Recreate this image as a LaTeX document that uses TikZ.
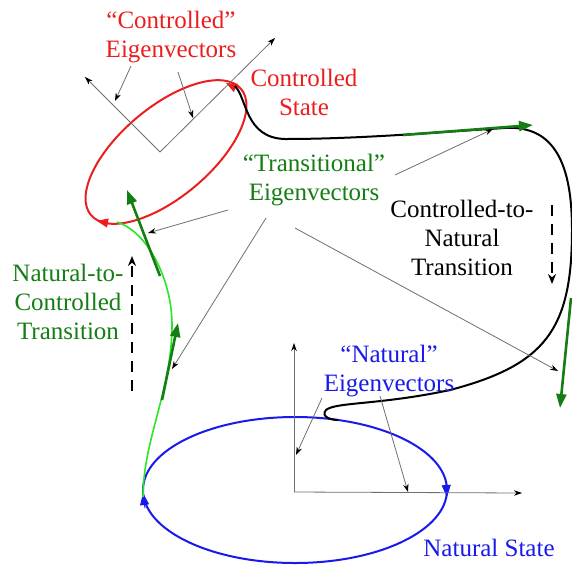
\documentclass[tikz,border=0pt]{standalone}
\usepackage{fontspec}
\setmainfont{Liberation Serif}
\usetikzlibrary{arrows.meta}
\definecolor{myred}{RGB}{235,30,30}
\definecolor{myblue}{RGB}{25,25,235}
\definecolor{dgreen}{RGB}{20,125,20}
\definecolor{lgreen}{RGB}{40,230,40}
\definecolor{axgray}{RGB}{110,110,110}
\begin{document}
\begin{tikzpicture}[x=1pt,y=-1pt,
  lbl/.style={font=\fontsize{25}{29}\selectfont, align=center, inner sep=0pt},
  garrow/.style={draw=axgray, line width=0.8pt, -{Stealth[length=8pt,width=5.5pt,black]}},
  tvec/.style={draw=dgreen, line width=2.6pt, -{Triangle[length=14pt,width=10pt]}},
  dasharrow/.style={draw=black, line width=2.2pt, dash pattern=on 11pt off 8pt, -{Stealth[length=10pt,width=8pt]}},
  traj/.style={line width=2pt}
]
\useasboundingbox (0,0) rectangle (572,568);

% ---------- coordinates ----------
\coordinate (rc) at (166,152);
\coordinate (ro) at (160,152);
\coordinate (rax1) at (85,77);
\coordinate (rax2) at (275,38);
\coordinate (bc) at (295,490);
\coordinate (bo) at (294,492);
\coordinate (bay) at (294,343);
\coordinate (bax) at (522,493);

% ---------- ellipses ----------
\draw[myred, traj, rotate around={40:(rc)}] (rc) ellipse [x radius=98pt, y radius=45pt];
\draw[myblue, traj] (bc) ellipse [x radius=152pt, y radius=73pt];
\draw[myred, line width=1pt, -{Triangle[length=11pt,width=9pt]}] (234,87) -- (226,83);
\draw[myred, line width=1pt, -{Triangle[length=11pt,width=9pt]}] (108,223) -- (97,221);
\draw[myblue, line width=1pt, -{Triangle[length=12pt,width=9pt]}] (446,482) -- (447,497);
\draw[myblue, line width=1pt, -{Triangle[length=12pt,width=9pt]}] (145,508) -- (143,493);

% ---------- eigen axes ----------
\draw[garrow] (ro) -- (rax1);
\draw[garrow] (ro) -- (rax2);
\draw[garrow] (bo) -- (bay);
\draw[garrow] (bo) -- (bax);

% ---------- trajectories ----------
\draw[black, traj] (235,86) .. controls (247,98) and (245,138) .. (285,139)
  .. controls (360,139) and (440,132) .. (505,128)
  .. controls (555,125) and (572,165) .. (572,230)
  .. controls (572,330) and (545,365) .. (450,390)
  .. controls (380,405) and (335,402) .. (326,410)
  .. controls (320,417) and (332,420) .. (338,420);
\draw[lgreen, line width=1.6pt] (117,222) .. controls (148,232) and (172,280) .. (172,325)
  .. controls (172,390) and (143,440) .. (143,497);

% ---------- transitional vectors ----------
\coordinate (t1s) at (160,276); \coordinate (t1e) at (127,190);
\coordinate (t2s) at (162,400); \coordinate (t2e) at (178,323);
\coordinate (t3s) at (403,135); \coordinate (t3e) at (533,125);
\coordinate (t4s) at (571,298); \coordinate (t4e) at (560,408);
\draw[tvec] (t1s) -- (t1e);
\draw[tvec] (t2s) -- (t2e);
\draw[tvec] (t3s) -- (t3e);
\draw[tvec] (t4s) -- (t4e);

% ---------- labels ----------
\node[lbl, text=myred] (ceig) at (171,37) {``Controlled''\\Eigenvectors};
\node[lbl, text=myred] (cstate) at (304,92) {Controlled\\State};
\node[lbl, text=dgreen] (teig) at (314,180) {``Transitional''\\Eigenvectors};
\node[lbl, text=black] (c2n) at (462,238) {Controlled-to-\\Natural\\Transition};
\node[lbl, text=dgreen] (n2c) at (68,302) {Natural-to-\\Controlled\\Transition};
\node[lbl, text=myblue] (neig) at (389,371) {``Natural''\\Eigenvectors};
\node[lbl, text=myblue] (nstate) at (489,548) {Natural State};

% ---------- label pointers ----------
\coordinate (p1) at (131,66);  \coordinate (q1) at (115,101);
\coordinate (p2) at (178,72);  \coordinate (q2) at (193,118);
\draw[garrow] (p1) -- (q1);
\draw[garrow] (p2) -- (q2);

\coordinate (p3) at (395,175); \coordinate (q3) at (493,129);
\coordinate (p4) at (228,210); \coordinate (q4) at (148,233);
\coordinate (p5) at (266,218); \coordinate (q5) at (172,369);
\coordinate (p6) at (295,228); \coordinate (q6) at (558,371);
\draw[garrow] (p3) -- (q3);
\draw[garrow] (p4) -- (q4);
\draw[garrow] (p5) -- (q5);
\draw[garrow] (p6) -- (q6);

\coordinate (p7) at (322,398); \coordinate (q7) at (296,455);
\coordinate (p8) at (380,396); \coordinate (q8) at (408,492);
\draw[garrow] (p7) -- (q7);
\draw[garrow] (p8) -- (q8);

% ---------- dashed direction arrows ----------
\coordinate (d1s) at (552,205); \coordinate (d1e) at (552,284);
\coordinate (d2s) at (132,391); \coordinate (d2e) at (132,256);
\draw[dasharrow] (d1s) -- (d1e);
\draw[dasharrow] (d2s) -- (d2e);
\end{tikzpicture}
\end{document}
